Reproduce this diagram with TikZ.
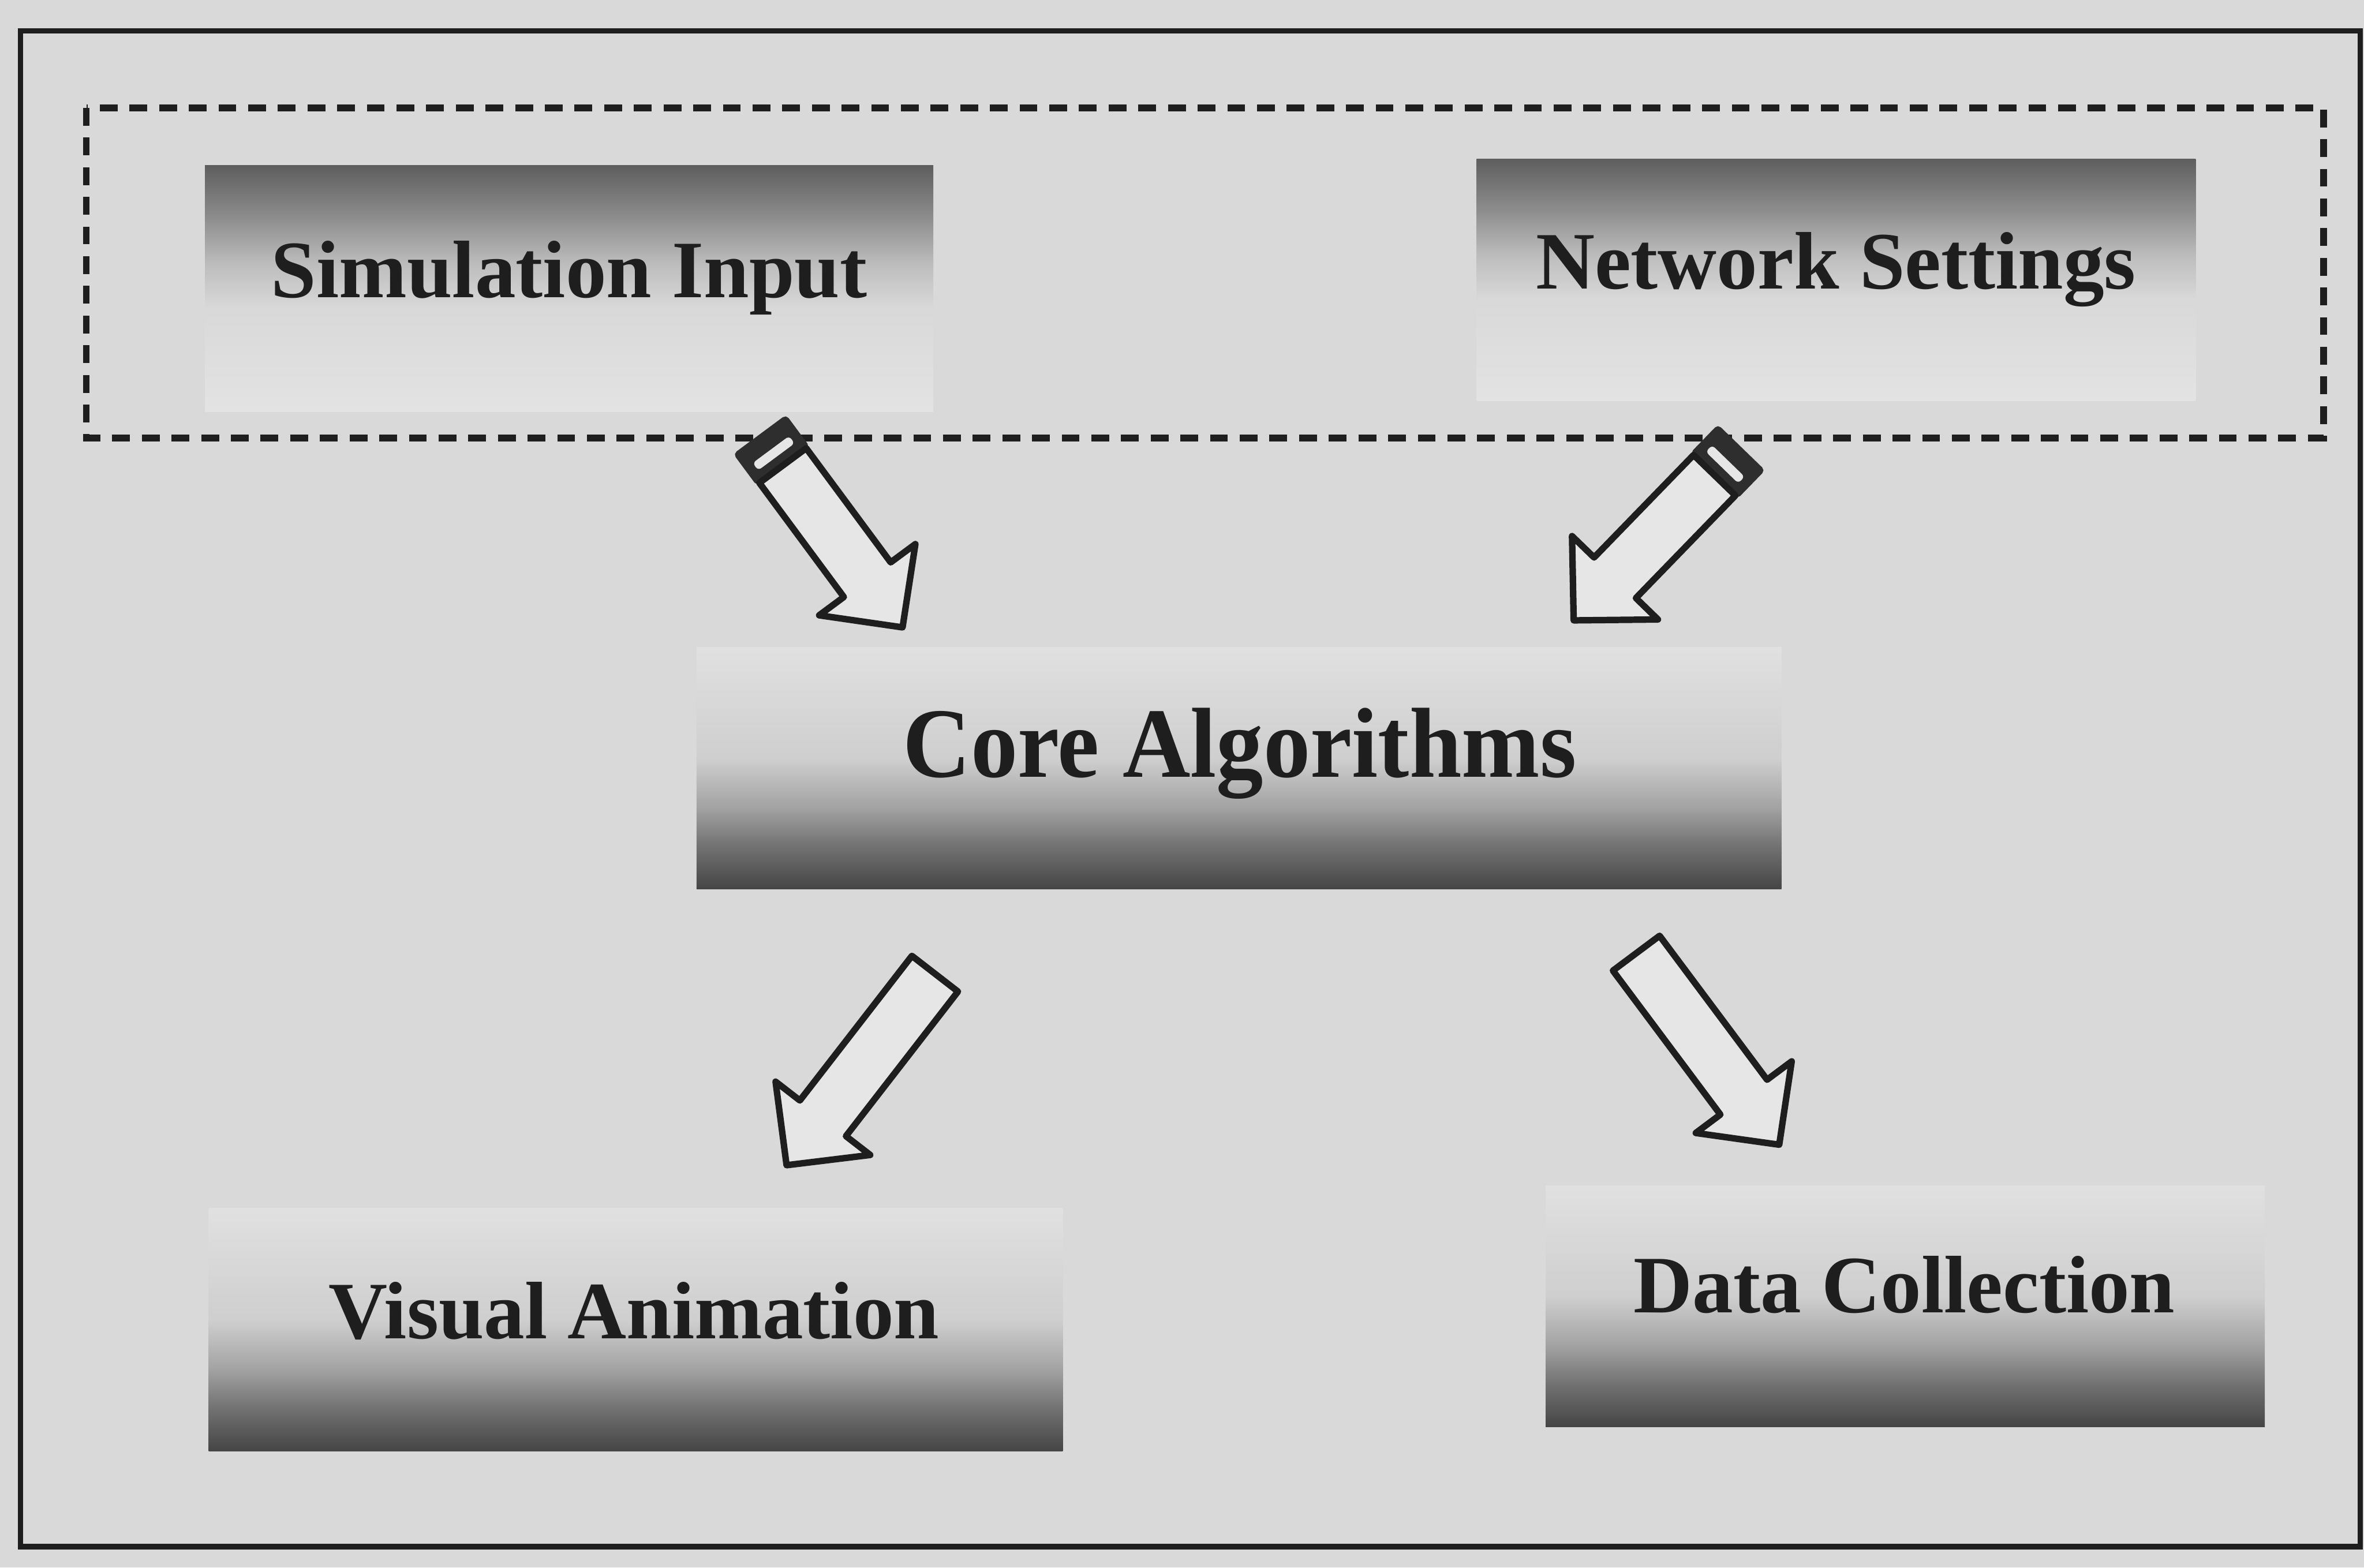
\documentclass[tikz,border=0pt]{standalone}
\usepackage{fontspec}
\setmainfont{Liberation Serif}
\usetikzlibrary{calc}

\definecolor{paper}{HTML}{D9D9D9}
\definecolor{ink}{HTML}{1E1E1E}
\definecolor{arrowfill}{HTML}{E6E6E6}
\definecolor{capdark}{HTML}{2E2E2E}

% box fades: the box spans 25bp (bottom) to 75bp (top)
\pgfdeclareverticalshading{darktop}{100bp}{%
  rgb(0bp)=(0.89,0.89,0.89); rgb(25bp)=(0.89,0.89,0.89);
  rgb(46bp)=(0.85,0.85,0.85); rgb(55bp)=(0.74,0.74,0.74);
  rgb(64bp)=(0.56,0.56,0.56); rgb(75bp)=(0.37,0.37,0.37);
  rgb(100bp)=(0.37,0.37,0.37)}
\pgfdeclareverticalshading{darkbottom}{100bp}{%
  rgb(0bp)=(0.27,0.27,0.27); rgb(25bp)=(0.27,0.27,0.27);
  rgb(34bp)=(0.45,0.45,0.45); rgb(42bp)=(0.64,0.64,0.64);
  rgb(52bp)=(0.81,0.81,0.81); rgb(75bp)=(0.88,0.88,0.88);
  rgb(100bp)=(0.88,0.88,0.88)}

\tikzset{
  framebox/.style={draw=ink, line width=0.1cm},
  groupbox/.style={draw=ink, line width=0.12cm, dash pattern=on 0.33cm off 0.22cm},
  upperbox/.style={rectangle, draw=none, shading=darktop, inner sep=0pt},
  lowerbox/.style={rectangle, draw=none, shading=darkbottom, inner sep=0pt},
  boxlabel/.style={anchor=base, inner sep=0pt, text=ink, font=\fontsize{43}{50}\selectfont\bfseries},
  corelabel/.style={anchor=base, inner sep=0pt, text=ink, font=\fontsize{49.5}{56}\selectfont\bfseries},
  arrowline/.style={draw=ink, fill=arrowfill, line width=0.12cm, line join=round},
  capfill/.style={draw=capdark, fill=capdark, line width=0.04cm, rounded corners=0.06cm},
  slotfill/.style={fill=arrowfill, rounded corners=0.07cm},
}

% hollow block arrow from tail #1 to tip #2
\newcommand\drawblockarrow[2]{%
  \coordinate (#1h) at ($(#2)!1.1cm!(#1)$);
  \path[arrowline] ($(#1)!0.54cm!90:(#2)$) -- ($(#1h)!0.54cm!90:(#2)$)
    -- ($(#1h)!1.11cm!90:(#2)$) -- (#2) -- ($(#1h)!1.11cm!-90:(#2)$)
    -- ($(#1h)!0.54cm!-90:(#2)$) -- ($(#1)!0.54cm!-90:(#2)$) -- cycle;
}
% dark end cap with a light slot behind the tail #1 of an arrow pointing to #2
\newcommand\drawarrowcap[2]{%
  \coordinate (#1c) at ($(#1)!-0.70cm!(#2)$);
  \path[capfill] ($(#1)!0.59cm!90:(#2)$) -- ($(#1c)!0.59cm!90:(#2)$)
    -- ($(#1c)!0.59cm!-90:(#2)$) -- ($(#1)!0.59cm!-90:(#2)$) -- cycle;
  \coordinate (#1p) at ($(#1)!-0.20cm!(#2)$);
  \coordinate (#1q) at ($(#1)!-0.37cm!(#2)$);
  \path[slotfill] ($(#1p)!0.42cm!90:(#2)$) -- ($(#1q)!0.42cm!90:(#2)$)
    -- ($(#1q)!0.42cm!-90:(#2)$) -- ($(#1p)!0.42cm!-90:(#2)$) -- cycle;
}

\begin{document}
\begin{tikzpicture}
\path[use as bounding box, fill=paper] (0,0) rectangle (43.82,-29.06);

% outer frame and dashed input group
\draw[framebox] (0.38,-0.57) rectangle (43.75,-28.67);
\draw[groupbox] (1.60,-2.00) rectangle (43.07,-8.12);

% boxes
\node[upperbox, minimum width=13.50cm, minimum height=4.56cm] (sim)  at (10.55,-5.35) {};
\node[upperbox, minimum width=13.33cm, minimum height=4.48cm] (net)  at (34.035,-5.19) {};
\node[lowerbox, minimum width=20.11cm, minimum height=4.48cm] (core) at (22.965,-14.24) {};
\node[lowerbox, minimum width=15.83cm, minimum height=4.50cm] (vis)  at (11.785,-24.65) {};
\node[lowerbox, minimum width=13.33cm, minimum height=4.47cm] (dat)  at (35.315,-24.215) {};

% labels
\node[boxlabel] (simt) at (10.55,-5.51) {Simulation Input};
\node[boxlabel] (nett) at (34.03,-5.35) {Network Settings};
\node[corelabel] (coret) at (22.98,-14.41) {\scalebox{1}[1.06]{Core Algorithms}};
\node[boxlabel] (vist) at (11.75,-24.81) {Visual Animation};
\node[boxlabel] (datt) at (35.30,-24.33) {Data Collection};

% arrow ends
\coordinate (a1s) at (14.51,-8.63);  \coordinate (a1e) at (16.73,-11.63);
\coordinate (a2s) at (31.78,-8.81);  \coordinate (a2e) at (29.17,-11.50);
\coordinate (a3s) at (17.33,-18.05); \coordinate (a3e) at (14.58,-21.60);
\coordinate (a4s) at (30.33,-17.67); \coordinate (a4e) at (32.98,-21.22);

% arrows: inputs into the core, core out to the outputs
\drawarrowcap{a1s}{a1e}
\drawblockarrow{a1s}{a1e}
\drawarrowcap{a2s}{a2e}
\drawblockarrow{a2s}{a2e}
\drawblockarrow{a3s}{a3e}
\drawblockarrow{a4s}{a4e}
\end{tikzpicture}
\end{document}
